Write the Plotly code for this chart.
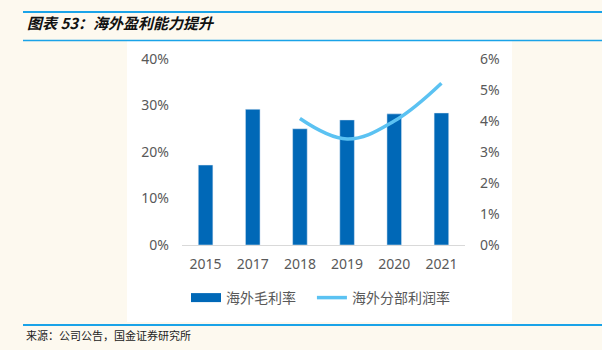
import plotly.graph_objects as go

years = ["2015", "2017", "2018", "2019", "2020", "2021"]
gross_margin = [17.2, 29.2, 25.0, 26.9, 28.2, 28.4]          # 海外毛利率 (%)
segment_years = ["2018", "2019", "2020", "2021"]
segment_margin = [4.08, 3.42, 4.0, 5.22]                      # 海外分部利润率 (%)
left_ticks = [0, 10, 20, 30, 40]
right_ticks = [0, 1, 2, 3, 4, 5, 6]

BAR = "#0068b7"
LINE = "#5bc2f2"
CREAM = "#fdf9ef"
BLUE = "#1aa3e8"
TXT = "#595959"
FONT = "Noto Sans, Noto Sans CJK SC"

W, H = 602, 350
L, R, T, B = 182, 465, 59, 245
def px(x): return (x - L) / (R - L)
def py(y): return (B - y) / (B - T)

fig = go.Figure()
fig.add_trace(go.Bar(x=years, y=gross_margin, marker_color=BAR, showlegend=False,
                     name="海外毛利率", yaxis="y"))
fig.add_trace(go.Scatter(x=[None], y=[None], mode="lines", name="海外毛利率" + "\u00a0" * 3,
                         line=dict(color=BAR, width=9), yaxis="y"))
fig.add_trace(go.Scatter(x=segment_years, y=segment_margin, mode="lines", name="海外分部利润率",
                         line=dict(color=LINE, width=3.5, shape="spline", smoothing=1.1),
                         yaxis="y2"))

shapes = [
    dict(type="rect", xref="paper", yref="paper", x0=px(127), x1=px(512), y0=py(322), y1=py(41),
         fillcolor="white", line_width=0, layer="below"),
    dict(type="line", xref="paper", yref="paper", x0=px(23), x1=px(602), y0=py(12), y1=py(12),
         line=dict(color=BLUE, width=2)),
    dict(type="line", xref="paper", yref="paper", x0=px(23), x1=px(602), y0=py(40.5), y1=py(40.5),
         line=dict(color=BLUE, width=1.5)),
    dict(type="line", xref="paper", yref="paper", x0=px(23), x1=px(602), y0=py(325), y1=py(325),
         line=dict(color=BLUE, width=2)),
]

annotations = [
    dict(text="<b><i>图表 53：海外盈利能力提升</i></b>", xref="paper", yref="paper",
         x=px(25), y=py(23), xanchor="left", yanchor="middle", showarrow=False,
         font=dict(family="Noto Sans CJK SC", size=15, color="#111111")),
    dict(text="来源：公司公告，国金证券研究所", xref="paper", yref="paper",
         x=px(24), y=py(335), xanchor="left", yanchor="middle", showarrow=False,
         font=dict(family="Noto Sans CJK SC", size=11, color="#222222")),
]

fig.update_layout(
    width=W, height=H,
    margin=dict(l=L, r=W - R, t=T, b=H - B, pad=0),
    paper_bgcolor=CREAM, plot_bgcolor="white",
    font=dict(family=FONT, size=14, color=TXT),
    bargap=0.69,
    xaxis=dict(type="category", showline=True, linecolor="#d9d9d9", linewidth=1,
               ticks="", showgrid=False, tickfont=dict(size=14, color=TXT),
               ticklabelstandoff=6),
    yaxis=dict(range=[0, 40], tickvals=left_ticks, ticktext=[f"{v}%" for v in left_ticks],
               showgrid=False, zeroline=False, showline=False, ticks="",
               ticklabelstandoff=12, tickfont=dict(size=14, color=TXT)),
    yaxis2=dict(range=[0, 6], tickvals=right_ticks, ticktext=[f"{v}%" for v in right_ticks],
                overlaying="y", side="right", showgrid=False, zeroline=False,
                showline=False, ticks="", ticklabelstandoff=14,
                tickfont=dict(size=14, color=TXT)),
    legend=dict(orientation="h", x=px(186), y=py(298), xanchor="left", yanchor="middle",
                bgcolor="rgba(0,0,0,0)", font=dict(size=14, color=TXT),
                itemwidth=30, tracegroupgap=0),
    shapes=shapes, annotations=annotations,
)

fig.write_html("out.html")
